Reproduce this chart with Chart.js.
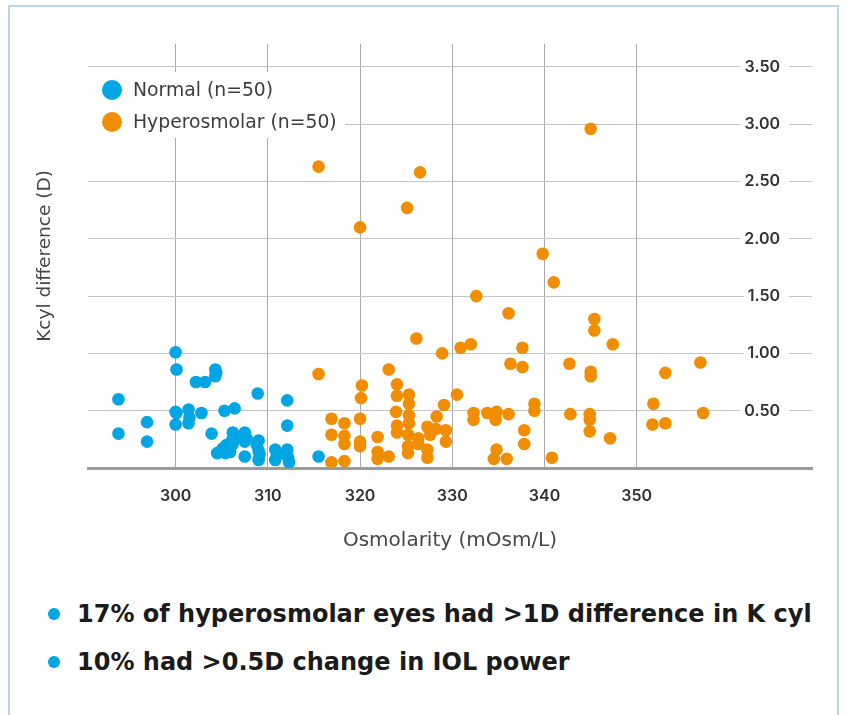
<!DOCTYPE html>
<html>
<head>
<meta charset="utf-8">
<script src="https://cdn.jsdelivr.net/npm/chart.js@4.4.1/dist/chart.umd.min.js"></script>
<style>
  body { margin: 0; background: #fff; width: 851px; height: 715px; overflow: hidden; font-family: "DejaVu Sans", sans-serif; }
  .frame { position: absolute; left: 8px; top: 5px; width: 831px; height: 760px; border: 2px solid #b7d6ee; box-sizing: border-box; }
  #wrap { position: absolute; left: 0; top: 0; width: 851px; height: 570px; }
  .notes { position: absolute; left: 0; top: 590px; margin: 0; padding: 0; list-style: none; }
  .notes li { position: relative; height: 48px; line-height: 48px; padding-left: 77px; font-size: 24px; font-weight: 700; color: #1b1b1b; white-space: nowrap; }
  .notes li::before { content: ""; position: absolute; left: 48px; top: 18px; width: 12px; height: 12px; border-radius: 50%; background: #00a5e3; }
</style>
</head>
<body>
<div class="frame"></div>
<div id="wrap"><canvas id="chart" width="851" height="570"></canvas></div>
<ul class="notes">
  <li>17% of hyperosmolar eyes had &gt;1D difference in K cyl</li>
  <li>10% had &gt;0.5D change in IOL power</li>
</ul>
<script>
// tick values
const xTicks = [300, 310, 320, 330, 340, 350];
const yTicks = [0.5, 1.0, 1.5, 2.0, 2.5, 3.0, 3.5];

// Normal (n=50)
const normalX = [300.0, 300.1, 302.2, 303.2, 304.3, 304.3, 293.8, 293.8, 296.9, 296.9,
  300.0, 300.0, 301.4, 301.4, 302.8, 303.9, 305.3, 306.4, 308.9, 312.1,
  312.1, 315.5, 306.2, 307.5, 307.5, 309.0, 305.5, 306.1, 304.5, 305.4,
  307.5, 309.0, 309.0, 310.8, 310.8, 312.1, 312.2, 306.2, 305.1, 307.7,
  308.8, 311.0, 312.0, 300.1, 304.4, 306.6, 309.1, 312.3, 301.5, 305.9];
const normalY = [1.01, 0.86, 0.75, 0.75, 0.86, 0.80, 0.60, 0.30, 0.40, 0.23,
  0.49, 0.38, 0.51, 0.39, 0.48, 0.30, 0.50, 0.52, 0.65, 0.59,
  0.37, 0.10, 0.31, 0.31, 0.23, 0.24, 0.20, 0.24, 0.13, 0.13,
  0.10, 0.15, 0.07, 0.16, 0.07, 0.16, 0.09, 0.21, 0.17, 0.26,
  0.20, 0.11, 0.13, 0.48, 0.83, 0.27, 0.12, 0.05, 0.44, 0.14];

// Hyperosmolar (n=50)
const hyperX = [315.5, 326.5, 325.1, 320.0, 339.8, 332.6, 336.1, 326.1, 328.9, 330.9,
  332.0, 337.6, 336.3, 337.6, 315.5, 323.1, 320.2, 320.1, 324.0, 324.0,
  325.3, 325.3, 330.5, 329.1, 328.3, 316.9, 318.3, 320.0, 323.9, 325.3,
  325.3, 324.0, 324.0, 316.9, 318.3, 318.3, 320.0, 320.0, 321.9, 321.9,
  321.9, 323.1, 316.9, 318.3, 325.2, 325.2, 325.2, 326.3, 326.3, 327.3,
  327.6, 327.3, 327.3, 329.3, 329.3, 328.2, 332.3, 332.3, 333.8, 334.8,
  334.7, 336.1, 337.8, 337.8, 334.8, 334.5, 335.9, 338.9, 338.9,
  345.0, 341.0, 345.4, 345.4, 347.4, 342.7, 345.0, 345.0, 353.1, 356.9,
  342.8, 344.9, 344.9, 344.9, 347.1, 351.8, 351.7, 353.1, 357.2, 340.8];
const hyperY = [2.63, 2.58, 2.27, 2.10, 1.87, 1.50, 1.35, 1.13, 1.00, 1.05,
  1.08, 1.05, 0.91, 0.88, 0.82, 0.86, 0.72, 0.61, 0.73, 0.63,
  0.64, 0.56, 0.64, 0.55, 0.45, 0.43, 0.39, 0.43, 0.49, 0.46,
  0.39, 0.37, 0.31, 0.29, 0.28, 0.21, 0.23, 0.19, 0.27, 0.14,
  0.08, 0.10, 0.05, 0.06, 0.29, 0.19, 0.13, 0.26, 0.21, 0.36,
  0.29, 0.16, 0.09, 0.33, 0.23, 0.34, 0.48, 0.42, 0.48, 0.49,
  0.42, 0.47, 0.33, 0.21, 0.16, 0.08, 0.08, 0.56, 0.50,
  2.96, 1.62, 1.30, 1.20, 1.08, 0.91, 0.84, 0.80, 0.83, 0.92,
  0.47, 0.47, 0.42, 0.32, 0.26, 0.56, 0.38, 0.39, 0.48, 0.09];

const BLUE = "#00a5e3";
const ORANGE = "#f18d00";
const TEXT_FONT = "'DejaVu Sans', sans-serif";

Chart.defaults.font.family = "Inter, sans-serif";

// white box with the legend drawn inside the plot
const insideLegend = {
  id: "insideLegend",
  afterDatasetsDraw(chart) {
    const ctx = chart.ctx;
    const a = chart.chartArea;
    ctx.save();
    ctx.fillStyle = "#fff";
    ctx.fillRect(a.left - 2, a.top + 28, 259, 66);
    chart.data.datasets.forEach((ds, i) => {
      const cy = a.top + 46 + i * 32;
      ctx.beginPath();
      ctx.arc(a.left + 24, cy, 10, 0, Math.PI * 2);
      ctx.fillStyle = ds.backgroundColor;
      ctx.fill();
      ctx.fillStyle = "#3d3d3d";
      ctx.font = "18.8px " + TEXT_FONT;
      ctx.textBaseline = "middle";
      ctx.fillText(ds.label, a.left + 45, cy + 1);
    });
    ctx.restore();
  }
};

new Chart(document.getElementById("chart"), {
  type: "scatter",
  data: {
    datasets: [
      {
        label: "Normal (n=50)",
        data: normalX.map((x, i) => ({ x: x, y: normalY[i] })),
        backgroundColor: BLUE,
      },
      {
        label: "Hyperosmolar (n=50)",
        data: hyperX.map((x, i) => ({ x: x, y: hyperY[i] })),
        backgroundColor: ORANGE,
      },
    ],
  },
  options: {
    responsive: false,
    animation: false,
    layout: { padding: { top: 44, left: 0, right: 0, bottom: 0 } },
    elements: { point: { radius: 6.3, hoverRadius: 6.3, borderWidth: 0 } },
    plugins: { legend: { display: false }, tooltip: { enabled: false } },
    scales: {
      x: {
        type: "linear",
        min: 290.5,
        max: 369,
        afterBuildTicks: (s) => { s.ticks = xTicks.map((v) => ({ value: v })); },
        afterFit: (s) => { s.height = 102; },
        grid: { color: "#a9a9a9", drawTicks: false },
        border: { color: "#9b9b9b", width: 3 },
        ticks: { padding: 19, color: "#333", font: { size: 16, weight: "600" } },
        title: {
          display: true,
          text: "Osmolarity (mOsm/L)",
          color: "#474747",
          font: { family: TEXT_FONT, size: 20 },
          padding: { top: 0, bottom: 17 },
        },
      },
      y: {
        type: "linear",
        position: "right",
        min: 0,
        max: 3.7,
        afterBuildTicks: (s) => { s.ticks = yTicks.map((v) => ({ value: v })); },
        afterFit: (s) => { s.width = 39; },
        grid: { color: "#c4c4c4", drawTicks: false },
        border: { display: false },
        ticks: {
          // mirrored labels sit inside the plot, right edge at axis.left + padding
          mirror: true,
          padding: -32,
          color: "#333",
          font: { size: 16, weight: "600" },
          callback: (v) => Number(v).toFixed(2),
          showLabelBackdrop: true,
          backdropColor: "#fff",
          backdropPadding: { left: 4, right: 9, top: 2, bottom: 2 },
        },
      },
      yTitle: {
        type: "linear",
        position: "left",
        afterFit: (s) => { s.width = 88; },
        grid: { display: false },
        border: { display: false },
        ticks: { display: false },
        title: {
          display: true,
          text: "Kcyl difference (D)",
          color: "#474747",
          font: { family: TEXT_FONT, size: 18.5 },
          padding: { top: 34, bottom: 0 },
        },
      },
    },
  },
  plugins: [insideLegend],
});
</script>
</body>
</html>
